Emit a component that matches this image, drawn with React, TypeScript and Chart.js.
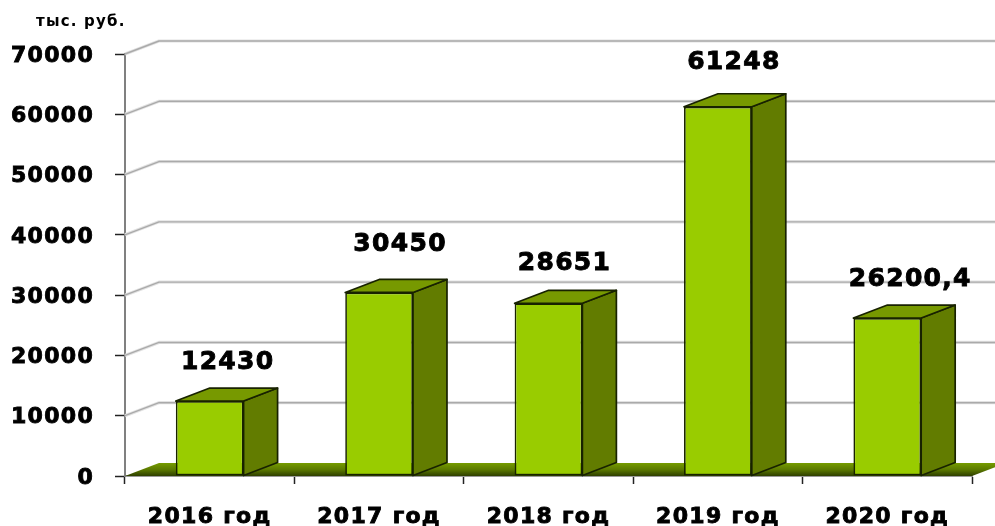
import React, { useEffect, useRef } from "react";
import { Chart, registerables } from "chart.js";

Chart.register(...registerables);

const categories = ["2016 год", "2017 год", "2018 год", "2019 год", "2020 год"];
const values = [12430, 30450, 28651, 61248, 26200.4];
const unitLabel = "тыс. руб.";
const gridValues = [0, 10000, 20000, 30000, 40000, 50000, 60000, 70000];
const labelShiftX = [18, 21, 16, 16, 23];
const labelShiftY = [39, 48, 40, 44, 39];

const FONT = '"DejaVu Sans", Verdana, sans-serif';
const DX = 34;
const DY = 13;
const EDGE = "#182200";

const poly = (ctx: CanvasRenderingContext2D, pts: number[][]) => {
  ctx.beginPath();
  pts.forEach(([x, y], i) => (i ? ctx.lineTo(x, y) : ctx.moveTo(x, y)));
  ctx.closePath();
};

const scenePlugin = {
  id: "scene3d",
  beforeDraw(chart: any) {
    // the reference's lettering is wider than the installed bold face
    chart.ctx.letterSpacing = "1.3px";
  },
  beforeDatasetsDraw(chart: any) {
    const ctx: CanvasRenderingContext2D = chart.ctx;
    const { left, right, bottom } = chart.chartArea;
    const yScale = chart.scales.y;
    ctx.save();
    ctx.lineJoin = "round";
    gridValues.slice(1).forEach((v) => {
      const y = yScale.getPixelForValue(v);
      const path = () => {
        ctx.beginPath();
        ctx.moveTo(left, y);
        ctx.lineTo(left + DX, y - DY);
        ctx.lineTo(chart.width + 2, y - DY);
      };
      path();
      ctx.strokeStyle = "#e2e2e2";
      ctx.lineWidth = 3.2;
      ctx.stroke();
      path();
      ctx.strokeStyle = "#aaaaaa";
      ctx.lineWidth = 1.4;
      ctx.stroke();
    });
    const g = ctx.createLinearGradient(0, bottom - DY, 0, bottom);
    g.addColorStop(0, "#769c00");
    g.addColorStop(0.5, "#5c7a00");
    g.addColorStop(1, "#2e3f00");
    poly(ctx, [
      [left, bottom],
      [left + DX, bottom - DY],
      [right + DX, bottom - DY],
      [right, bottom],
    ]);
    ctx.fillStyle = g;
    ctx.fill();
    const meta = chart.getDatasetMeta(0);
    meta.data.forEach((bar: any) => {
      const x0 = bar.x - bar.width / 2;
      const x1 = bar.x + bar.width / 2;
      const top = bar.y;
      const base = bar.base;
      ctx.strokeStyle = EDGE;
      ctx.lineWidth = 1.7;
      poly(ctx, [
        [x1, top],
        [x1 + DX, top - DY],
        [x1 + DX, base - DY],
        [x1, base],
      ]);
      ctx.fillStyle = "#627c00";
      ctx.fill();
      ctx.stroke();
      poly(ctx, [
        [x0, top],
        [x0 + DX, top - DY],
        [x1 + DX, top - DY],
        [x1, top],
      ]);
      ctx.fillStyle = "#779900";
      ctx.fill();
      ctx.stroke();
    });
    ctx.restore();
  },
  afterDatasetsDraw(chart: any) {
    const ctx: CanvasRenderingContext2D = chart.ctx;
    const meta = chart.getDatasetMeta(0);
    ctx.save();
    ctx.fillStyle = "#000000";
    ctx.strokeStyle = "#000000";
    ctx.lineWidth = 0.9;
    ctx.textAlign = "center";
    ctx.textBaseline = "middle";
    ctx.font = `bold 25px ${FONT}`;
    meta.data.forEach((bar: any, i: number) => {
      const text = String(values[i]).replace(".", ",");
      const x = bar.x + labelShiftX[i];
      const y = bar.y - labelShiftY[i];
      ctx.fillText(text, x, y);
      ctx.strokeText(text, x, y);
    });
    ctx.font = `bold 15px ${FONT}`;
    ctx.textAlign = "left";
    ctx.letterSpacing = "1.2px";
    ctx.fillText(unitLabel, 36, 22);
    ctx.restore();
  },
};

export default function App() {
  const ref = useRef<HTMLCanvasElement | null>(null);
  useEffect(() => {
    if (!ref.current) return;
    const chart = new Chart(ref.current, {
      type: "bar",
      data: {
        labels: categories,
        datasets: [
          {
            data: values,
            backgroundColor: "#99cc00",
            borderColor: EDGE,
            borderWidth: 1.7,
            borderSkipped: false,
            barPercentage: 0.4,
            categoryPercentage: 1,
          },
        ],
      },
      plugins: [scenePlugin],
      options: {
        responsive: false,
        animation: false,
        layout: { padding: { top: 54, right: 23, left: 0, bottom: 0 } },
        plugins: { legend: { display: false }, title: { display: false }, tooltip: { enabled: false } },
        scales: {
          x: {
            afterFit: (s: any) => {
              s.height = 50;
            },
            grid: {
              drawOnChartArea: false,
              drawTicks: true,
              tickLength: 8,
              tickColor: "#222222",
              tickWidth: 1.5,
            },
            border: { color: "#9a9a9a", width: 2 },
            ticks: {
              color: "#000000",
              padding: 20,
              maxRotation: 0,
              textStrokeColor: "#000000",
              textStrokeWidth: 0.9,
              font: { family: FONT, size: 22, weight: "bold" },
            },
          },
          y: {
            min: 0,
            max: 70000,
            afterFit: (s: any) => {
              s.width = 125;
            },
            grid: {
              drawOnChartArea: false,
              drawTicks: true,
              tickLength: 10,
              tickColor: "#222222",
              tickWidth: 1.5,
            },
            border: { color: "#808080", width: 2 },
            ticks: {
              stepSize: 10000,
              color: "#000000",
              padding: 21,
              textStrokeColor: "#000000",
              textStrokeWidth: 0.9,
              font: { family: FONT, size: 22, weight: "bold", lineHeight: 0.18 },
              // the empty first line nudges the digits 2px below the tick
              callback: (v: any) => ["", String(v)],
            },
          },
        },
      },
    } as any);
    return () => chart.destroy();
  }, []);
  return (
    <div style={{ position: "absolute", left: 0, top: 0, width: 995, height: 526 }}>
      <canvas ref={ref} width={995} height={526} style={{ display: "block" }} />
    </div>
  );
}
